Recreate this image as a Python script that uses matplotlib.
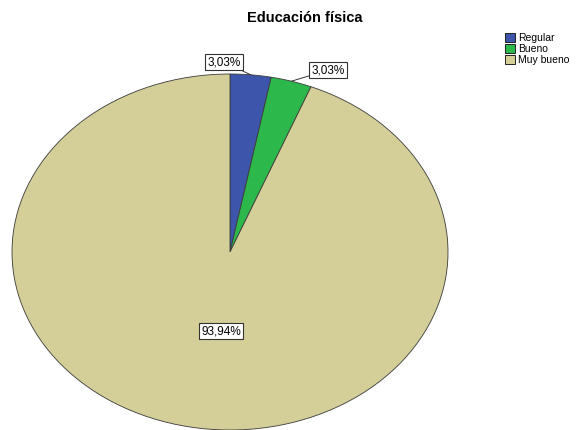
import matplotlib
matplotlib.use("Agg")
import matplotlib.pyplot as plt
from matplotlib.patches import Patch
import numpy as np

plt.rcParams['font.family'] = ['Liberation Sans', 'DejaVu Sans']

categories = ["Regular", "Bueno", "Muy bueno"]
values = [3.03, 3.03, 93.94]
labels = ["3,03%", "3,03%", "93,94%"]
colors = ["#3D56AB", "#2DB84B", "#D4CF98"]

W, H = 584, 430
fig = plt.figure(figsize=(W / 100, H / 100), dpi=100)

# Elliptical pie: axes spans pixel box (12..448, 74..430)
ax = fig.add_axes([12 / W, 0 / H, 436 / W, 356 / H])
wedges, _ = ax.pie(values, colors=colors, startangle=90, counterclock=False,
                   wedgeprops=dict(edgecolor="#3a3a3a", linewidth=0.6))
ax.set_aspect('auto')
ax.set_xlim(-1, 1)
ax.set_ylim(-1, 1)
ax.set_axis_off()

box = dict(boxstyle="square,pad=0.2", fc="white", ec="#333333", lw=0.8)
text_pos = [(-0.028, 1.067), (0.45, 1.022), (-0.041, -0.444)]
start = 90.0
for i, (v, lab) in enumerate(zip(values, labels)):
    mid = np.deg2rad(start - v * 3.6 / 2)
    start -= v * 3.6
    tx, ty = text_pos[i]
    if i < 2:
        ax.annotate(lab, xy=(np.cos(mid), np.sin(mid)), xytext=(tx, ty),
                    ha="center", va="center", fontsize=8.5, bbox=box,
                    annotation_clip=False,
                    arrowprops=dict(arrowstyle="-", color="#333333", lw=0.7,
                                    shrinkA=0, shrinkB=0))
    else:
        ax.text(tx, ty, lab, ha="center", va="center", fontsize=8.5, bbox=box)

fig.text(305 / W, 1 - 18 / H, "Educación física", ha="center", va="center",
         fontsize=10.5, fontweight="bold")

handles = [Patch(facecolor=c, edgecolor="#222222", lw=0.7) for c in colors]
fig.legend(handles, categories, loc="upper left",
           bbox_to_anchor=(498 / W, 1 - 26 / H), frameon=False, fontsize=7.5,
           handlelength=0.9, handleheight=0.9, handletextpad=0.3,
           labelspacing=0.1, borderpad=0.2)

fig.savefig("out.png", dpi=100)
